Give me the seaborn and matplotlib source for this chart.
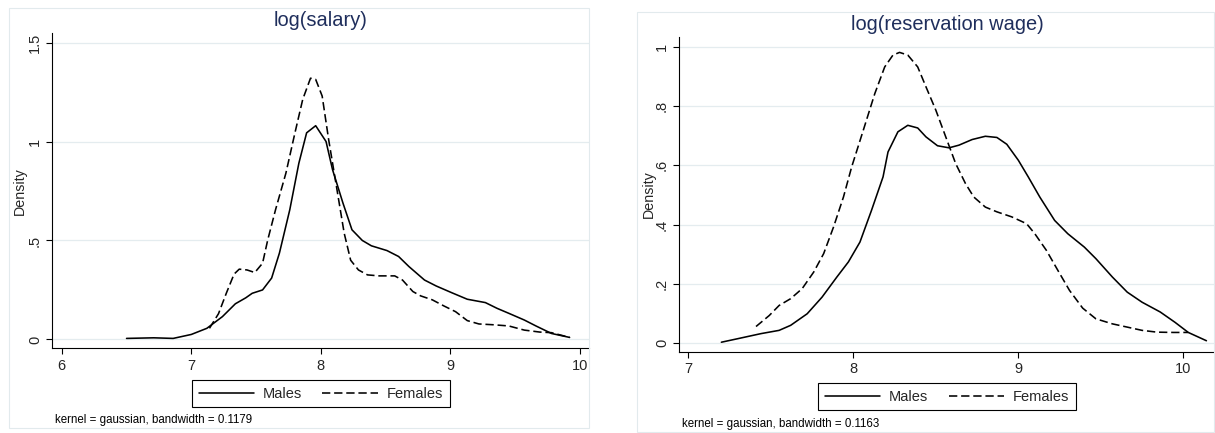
import pandas as pd
import seaborn as sns
import matplotlib.pyplot as plt
from matplotlib.patches import Rectangle

# Kernel density curves
salary_male_x = [6.50, 6.71, 6.86, 7.00, 7.12, 7.24, 7.34, 7.42, 7.47, 7.55, 7.62, 7.68, 7.76,
                 7.83, 7.89, 7.96, 8.04, 8.09, 8.17, 8.24, 8.32, 8.39, 8.51, 8.60, 8.68, 8.80,
                 8.89, 9.01, 9.13, 9.27, 9.36, 9.45, 9.57, 9.66, 9.78, 9.92]
salary_male_y = [0.005, 0.008, 0.005, 0.025, 0.056, 0.115, 0.18, 0.21, 0.233, 0.25, 0.31, 0.436,
                 0.655, 0.89, 1.044, 1.08, 1.00, 0.858, 0.69, 0.554, 0.50, 0.473, 0.449, 0.419,
                 0.368, 0.30, 0.27, 0.236, 0.203, 0.186, 0.157, 0.132, 0.098, 0.068, 0.03, 0.01]
salary_female_x = [7.14, 7.21, 7.27, 7.33, 7.37, 7.43, 7.49, 7.55, 7.59, 7.65, 7.73, 7.80, 7.86,
                   7.92, 7.96, 8.01, 8.06, 8.12, 8.18, 8.23, 8.29, 8.36, 8.45, 8.57, 8.63, 8.71,
                   8.77, 8.86, 8.95, 9.04, 9.13, 9.22, 9.33, 9.45, 9.57, 9.69, 9.78, 9.92]
salary_female_y = [0.056, 0.13, 0.233, 0.33, 0.355, 0.351, 0.338, 0.385, 0.503, 0.655, 0.84,
                   1.044, 1.213, 1.32, 1.314, 1.23, 1.01, 0.774, 0.537, 0.40, 0.351, 0.326, 0.321,
                   0.321, 0.30, 0.242, 0.22, 0.20, 0.169, 0.14, 0.095, 0.078, 0.074, 0.068,
                   0.047, 0.037, 0.034, 0.01]

resw_male_x = [7.20, 7.30, 7.44, 7.55, 7.62, 7.72, 7.81, 7.90, 7.97, 8.04, 8.11, 8.18, 8.21,
               8.27, 8.33, 8.39, 8.44, 8.51, 8.58, 8.64, 8.72, 8.80, 8.87, 8.93, 9.00, 9.06,
               9.13, 9.22, 9.30, 9.40, 9.47, 9.57, 9.66, 9.75, 9.86, 9.95, 10.03, 10.14]
resw_male_y = [0.003, 0.015, 0.032, 0.043, 0.06, 0.099, 0.155, 0.223, 0.274, 0.341, 0.448,
               0.561, 0.645, 0.713, 0.735, 0.726, 0.696, 0.666, 0.659, 0.668, 0.687, 0.698,
               0.694, 0.671, 0.617, 0.561, 0.493, 0.414, 0.369, 0.324, 0.285, 0.223, 0.172,
               0.138, 0.105, 0.07, 0.036, 0.008]
resw_female_x = [7.41, 7.49, 7.55, 7.62, 7.69, 7.76, 7.82, 7.88, 7.94, 7.99, 8.06, 8.13, 8.19,
                 8.24, 8.28, 8.33, 8.39, 8.44, 8.50, 8.56, 8.62, 8.68, 8.73, 8.80, 8.87, 8.96,
                 9.05, 9.10, 9.17, 9.24, 9.31, 9.39, 9.47, 9.57, 9.66, 9.75, 9.84, 9.94, 10.03]
resw_female_y = [0.056, 0.093, 0.127, 0.15, 0.184, 0.24, 0.302, 0.392, 0.493, 0.595, 0.718,
                 0.842, 0.932, 0.972, 0.981, 0.972, 0.932, 0.865, 0.786, 0.696, 0.606, 0.538,
                 0.493, 0.459, 0.443, 0.426, 0.403, 0.369, 0.313, 0.245, 0.178, 0.118, 0.082,
                 0.065, 0.054, 0.043, 0.037, 0.036, 0.036]

groups = ["Males", "Females"]
titles = ["log(salary)", "log(reservation wage)"]
notes = ["kernel = gaussian, bandwidth = 0.1179", "kernel = gaussian, bandwidth = 0.1163"]
xticks = [[6, 7, 8, 9, 10], [7, 8, 9, 10]]
yticks = [[0, 0.5, 1, 1.5], [0, 0.2, 0.4, 0.6, 0.8, 1]]
yticklabels = [["0", ".5", "1", "1.5"], ["0", ".2", ".4", ".6", ".8", "1"]]


def make_df(mx, my, fx, fy):
    return pd.concat([
        pd.DataFrame({"x": mx, "density": my, "group": "Males"}),
        pd.DataFrame({"x": fx, "density": fy, "group": "Females"}),
    ])


data = [make_df(salary_male_x, salary_male_y, salary_female_x, salary_female_y),
        make_df(resw_male_x, resw_male_y, resw_female_x, resw_female_y)]

sns.set_theme(style="white")
plt.rcParams["font.family"] = ["Liberation Sans", "DejaVu Sans"]

W, H = 1215, 433
fig = plt.figure(figsize=(W / 100, H / 100), dpi=100)

# panel geometry in pixels
axes_px = [(52.3, 33.3, 589.3, 348.3), (679.3, 36.7, 1215, 352)]
panel_px = [(9.3, 8.3, 589.3, 428), (636.7, 11.7, 1214, 431.7)]
xlims = [(5.927, 10.072), (6.945, 10.192)]
ylims = [(-0.045, 1.547), (-0.030, 1.034)]
title_y = [20.8, 24.2]
legend_y = [393.7, 396.7]
note_pos = [(55, 420), (681.7, 424)]
ylabel_x = [27, 656]

for i in range(2):
    x0, y0, x1, y1 = panel_px[i]
    fig.add_artist(Rectangle((x0 / W, 1 - y1 / H), (x1 - x0) / W, (y1 - y0) / H,
                             transform=fig.transFigure, fill=False,
                             ec="#e2eaed", lw=0.8))

    a0, b0, a1, b1 = axes_px[i]
    ax = fig.add_axes([a0 / W, 1 - b1 / H, (a1 - a0) / W, (b1 - b0) / H])
    sns.lineplot(data=data[i], x="x", y="density", hue="group", style="group",
                 hue_order=groups, style_order=groups,
                 palette={"Males": "black", "Females": "black"},
                 dashes={"Males": "", "Females": (5.2, 2.4)},
                 estimator=None, sort=False, lw=1.15, ax=ax)

    ax.set_xlim(*xlims[i])
    ax.set_ylim(*ylims[i])
    ax.set_xticks(xticks[i])
    ax.set_yticks(yticks[i])
    ax.set_yticklabels(yticklabels[i])
    ax.set_xlabel("")
    ax.set_ylabel("Density", fontsize=10.3)
    ax.yaxis.set_label_coords((ylabel_x[i] - a0) / (a1 - a0), 0.5)

    ax.tick_params(axis="both", which="major", length=4.5, width=0.8, color="black",
                   labelsize=10.5, direction="out", bottom=True, left=True)
    ax.tick_params(axis="x", pad=3)
    ax.tick_params(axis="y", pad=3, labelrotation=90)
    for lab in ax.get_yticklabels():
        lab.set_va("center")

    ax.yaxis.grid(True, color="#e4ecef", lw=0.9)
    ax.xaxis.grid(False)
    ax.set_axisbelow(True)
    for side in ["top", "right"]:
        ax.spines[side].set_visible(False)
    for side in ["left", "bottom"]:
        ax.spines[side].set_color("black")
        ax.spines[side].set_linewidth(0.8)

    fig.text((a0 + a1) / 2 / W, 1 - title_y[i] / H, titles[i], ha="center", va="center",
             fontsize=14.4, color="#1f2e5c")

    handles, labels = ax.get_legend_handles_labels()
    ax.legend(handles, labels, ncol=2, loc="center",
              bbox_to_anchor=((a0 + a1) / 2 / W, 1 - legend_y[i] / H),
              bbox_transform=fig.transFigure, fontsize=10.5, frameon=True,
              fancybox=False, edgecolor="black", framealpha=1,
              handlelength=3.8, handletextpad=0.6, columnspacing=1.4,
              borderpad=0.45)
    ax.get_legend().get_frame().set_linewidth(0.8)

    fig.text(note_pos[i][0] / W, 1 - note_pos[i][1] / H, notes[i], ha="left",
             va="center", fontsize=8.3, color="black")

fig.savefig("out.png", dpi=100)
